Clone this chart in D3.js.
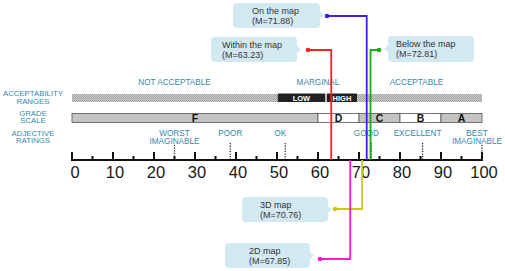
<!DOCTYPE html>
<html lang="en">
<head>
    <meta charset="UTF-8">
    <title>SUS score scale</title>
    <style>
        body { margin: 0; background: #fff; }
        svg { display: block; font-family: "Liberation Sans", Arial, sans-serif; }
        .side { fill: #3589a8; font-size: 7.8px; text-anchor: middle; }
        .scale-label { fill: #3589a8; font-size: 8.2px; text-anchor: middle; }
        .callout text { fill: #333; font-size: 9px; }
    </style>
</head>
<body>
    <svg width="505" height="271"></svg>
    <script src="https://d3js.org/d3.v7.min.js"></script>
    <script>
        // axis
        const tickLabels = [0, 10, 20, 30, 40, 50, 60, 70, 80, 90, 100];
        const minorTicks = [5, 15, 25, 35, 45, 55, 65, 75, 85, 95];

        // acceptability ranges
        const rangeNames = ["NOT ACCEPTABLE", "MARGINAL", "ACCEPTABLE"];
        const rangeCenters = [25, 60, 84];
        const marginalNames = ["LOW", "HIGH"];
        const marginalFrom = [50.2, 62.2];
        const marginalTo = [61.7, 69.5];

        // grade scale
        const grades = ["F", "D", "C", "B", "A"];
        const gradeFrom = [0, 60, 70, 80, 90];
        const gradeTo = [60, 70, 80, 90, 100];

        // adjective ratings
        const adjectives = [["WORST", "IMAGINABLE"], ["POOR"], ["OK"], ["GOOD"], ["EXCELLENT"], ["BEST", "IMAGINABLE"]];
        const adjectiveScores = [25, 38.6, 52, 73, 85.5, 100];

        // mean scores per condition
        const conditions = ["On the map", "Within the map", "Below the map", "3D map", "2D map"];
        const means = [71.88, 63.23, 72.81, 70.76, 67.85];
        const lineColors = ["#3b1fe6", "#ff1f1f", "#0fb00f", "#caca10", "#ff18d0"];

        // where each callout box sits
        const callouts = [
            { x: 233, y: 3, w: 87, h: 25, tx: 19, side: "right", dx: 327, dy: 16 },
            { x: 211, y: 37, w: 86, h: 25, tx: 11, side: "right", dx: 308, dy: 50 },
            { x: 388, y: 36, w: 86, h: 26, tx: 8, side: "left", dx: 379, dy: 50 },
            { x: 242, y: 197, w: 86, h: 25, tx: 18, side: "right", dx: 335, dy: 209 },
            { x: 225, y: 243, w: 85, h: 25, tx: 24, side: "right", dx: 320, dy: 259 }
        ];

        const svg = d3.select("svg");
        const x = d3.scaleLinear().domain([0, 100]).range([72, 482]);
        const baseY = 160;

        const defs = svg.append("defs");
        const pat = defs.append("pattern")
            .attr("id", "hatch").attr("width", 2).attr("height", 2)
            .attr("patternUnits", "userSpaceOnUse");
        pat.append("rect").attr("width", 2).attr("height", 2).attr("fill", "#d2d2d2");
        pat.append("rect").attr("width", 1).attr("height", 1).attr("fill", "#9c9c9c");
        pat.append("rect").attr("x", 1).attr("y", 1).attr("width", 1).attr("height", 1).attr("fill", "#9c9c9c");

        // left side labels
        const side = [["ACCEPTABILITY", "RANGES", 96], ["GRADE", "SCALE", 115.5], ["ADJECTIVE", "RATINGS", 135.5]];
        side.forEach(s => {
            const t = svg.append("text").attr("class", "side").attr("y", s[2]);
            t.append("tspan").attr("x", 33).text(s[0]);
            t.append("tspan").attr("x", 33).attr("dy", 7.5).text(s[1]);
        });

        // acceptability ranges bar
        svg.append("rect")
            .attr("x", x(0)).attr("y", 94).attr("width", x(100) - x(0)).attr("height", 8)
            .attr("fill", "url(#hatch)");

        svg.selectAll(".marg")
            .data(marginalNames)
            .enter().append("rect")
            .attr("class", "marg")
            .attr("x", (d, i) => x(marginalFrom[i]))
            .attr("y", 93.5)
            .attr("width", (d, i) => x(marginalTo[i]) - x(marginalFrom[i]))
            .attr("height", 8.5)
            .attr("fill", "#222");

        svg.selectAll(".marg-text")
            .data(marginalNames)
            .enter().append("text")
            .attr("x", (d, i) => x((marginalFrom[i] + marginalTo[i]) / 2))
            .attr("y", 100.7)
            .attr("text-anchor", "middle")
            .attr("fill", "#fff")
            .attr("font-size", 7.5)
            .attr("font-weight", "bold")
            .text(d => d);

        svg.selectAll(".range")
            .data(rangeNames)
            .enter().append("text")
            .attr("class", "scale-label")
            .attr("x", (d, i) => x(rangeCenters[i]))
            .attr("y", 85)
            .text(d => d);

        // grade scale bar
        svg.selectAll(".grade")
            .data(grades)
            .enter().append("rect")
            .attr("x", (d, i) => x(gradeFrom[i]))
            .attr("y", 113.5)
            .attr("width", (d, i) => x(gradeTo[i]) - x(gradeFrom[i]))
            .attr("height", 9)
            .attr("fill", (d, i) => i % 2 === 0 ? "#c4c4c4" : "#fff")
            .attr("stroke", "#555")
            .attr("stroke-width", 0.8);

        svg.selectAll(".grade-text")
            .data(grades)
            .enter().append("text")
            .attr("x", (d, i) => x((gradeFrom[i] + gradeTo[i]) / 2))
            .attr("y", 121.8)
            .attr("text-anchor", "middle")
            .attr("font-size", 10.5)
            .attr("font-weight", "bold")
            .attr("fill", "#111")
            .text(d => d);

        // adjective labels and dotted markers
        adjectives.forEach((lines, i) => {
            const cx = x(adjectiveScores[i]) - (i < 2 ? 0 : 5);
            const t = svg.append("text").attr("class", "scale-label").attr("y", 136);
            lines.forEach((l, j) => t.append("tspan").attr("x", cx).attr("dy", j ? 7.5 : 0).text(l));
            svg.append("line")
                .attr("x1", x(adjectiveScores[i])).attr("x2", x(adjectiveScores[i]))
                .attr("y1", lines.length > 1 ? 145 : 143).attr("y2", i === 5 ? 152 : baseY)
                .attr("stroke", "#222").attr("stroke-width", 1.2)
                .attr("stroke-dasharray", "1.3,1.3");
        });

        // axis
        svg.append("line")
            .attr("x1", x(0) - 1).attr("x2", x(100) + 1)
            .attr("y1", baseY).attr("y2", baseY)
            .attr("stroke", "#111").attr("stroke-width", 2.2);

        svg.selectAll(".major")
            .data(tickLabels)
            .enter().append("line")
            .attr("x1", d => x(d)).attr("x2", d => x(d))
            .attr("y1", baseY - 8).attr("y2", baseY)
            .attr("stroke", "#111").attr("stroke-width", 2);

        svg.selectAll(".minor")
            .data(minorTicks)
            .enter().append("line")
            .attr("x1", d => x(d)).attr("x2", d => x(d))
            .attr("y1", baseY - 4).attr("y2", baseY)
            .attr("stroke", "#111").attr("stroke-width", 2);

        svg.selectAll(".tick-label")
            .data(tickLabels)
            .enter().append("text")
            .attr("x", d => x(d) + (d === 0 ? 3 : 2))
            .attr("y", 177.5)
            .attr("text-anchor", "middle")
            .attr("font-size", 16.5)
            .attr("fill", "#1a1a1a")
            .text(d => d);

        // connectors from callouts to the mean scores
        conditions.forEach((name, i) => {
            const c = callouts[i];
            const mx = x(means[i]);
            svg.append("path")
                .attr("d", `M${c.dx},${c.dy}H${mx}V${baseY}`)
                .attr("fill", "none")
                .attr("stroke", lineColors[i])
                .attr("stroke-width", 1.8);
            svg.append("circle")
                .attr("cx", c.dx).attr("cy", c.dy).attr("r", 2.3)
                .attr("fill", lineColors[i]);
        });

        // callout boxes
        conditions.forEach((name, i) => {
            const c = callouts[i];
            const g = svg.append("g").attr("class", "callout");
            const my = c.y + c.h / 2;
            g.append("rect")
                .attr("x", c.x).attr("y", c.y).attr("width", c.w).attr("height", c.h)
                .attr("rx", 4).attr("fill", "#d3e9f2");
            const tip = c.side === "right"
                ? [[c.x + c.w, my - 3.5], [c.x + c.w + 4, my], [c.x + c.w, my + 3.5]]
                : [[c.x, my - 3.5], [c.x - 4, my], [c.x, my + 3.5]];
            g.append("path").attr("d", d3.line()(tip) + "Z").attr("fill", "#d3e9f2");
            g.append("text").attr("x", c.x + c.tx).attr("y", c.y + 11).text(name);
            g.append("text").attr("x", c.x + c.tx).attr("y", c.y + 21).text(`(M=${means[i]})`);
        });
    </script>
</body>
</html>
